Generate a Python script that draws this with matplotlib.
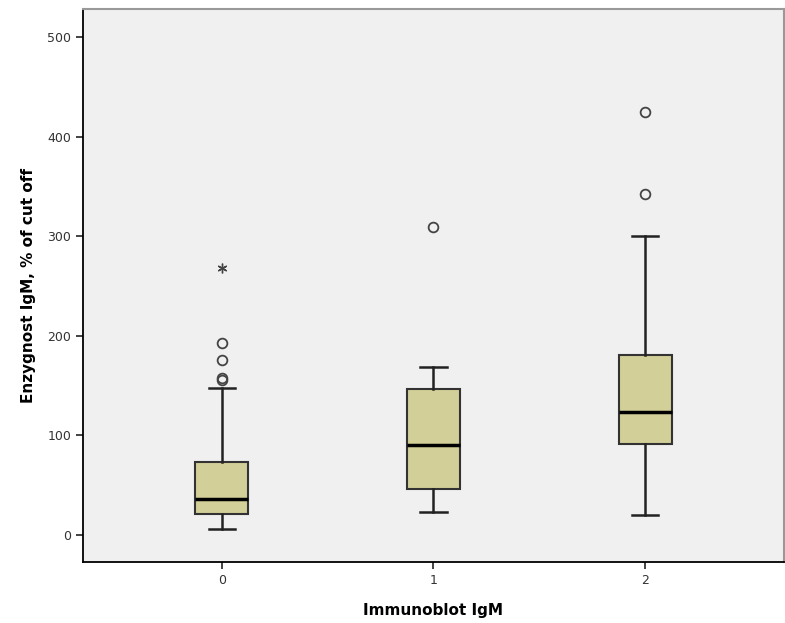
import matplotlib.pyplot as plt

# Boxplot statistics
groups = ['0', '1', '2']
q1 = [21, 46, 91]
med = [36, 90, 123]
q3 = [73, 147, 181]
whislo = [6, 23, 20]
whishi = [148, 169, 300]
outliers = [[193, 176, 158, 156], [309], [425, 342]]
extremes = [[268], [], []]

stats = []
for i in range(len(groups)):
    stats.append({'label': groups[i], 'q1': q1[i], 'med': med[i], 'q3': q3[i],
                  'whislo': whislo[i], 'whishi': whishi[i], 'fliers': outliers[i]})

fig = plt.figure(figsize=(7.85, 6.23), dpi=100)
ax = fig.add_axes([0.1057, 0.0979, 0.893, 0.8877])
ax.set_facecolor('#f0f0f0')

pos = list(range(len(groups)))
ax.bxp(stats, positions=pos, widths=0.25, patch_artist=True,
       boxprops=dict(facecolor='#d3cf98', edgecolor='#333333', linewidth=1.5),
       medianprops=dict(color='black', linewidth=2.5),
       whiskerprops=dict(color='#222222', linewidth=1.8),
       capprops=dict(color='#222222', linewidth=1.8),
       capwidths=0.125,
       flierprops=dict(marker='o', markersize=7, markerfacecolor='none',
                       markeredgecolor='#444444', markeredgewidth=1.3))

# extreme values drawn as stars
for i in range(len(groups)):
    for v in extremes[i]:
        ax.plot(pos[i], v, marker=(6, 2, 0), markersize=7, color='#444444',
                markeredgewidth=1.0, linestyle='none')

ax.set_xlim(-0.656, 2.656)
ax.set_ylim(-27.1, 528.1)
ax.set_yticks([0, 100, 200, 300, 400, 500])
ax.set_xticks(pos)
ax.set_xticklabels(groups)
ax.tick_params(labelsize=9, colors='#222222', labelcolor='#333333', length=5, width=1.2)

for side in ['left', 'bottom']:
    ax.spines[side].set_color('black')
    ax.spines[side].set_linewidth(1.3)
for side in ['top', 'right']:
    ax.spines[side].set_color('#999999')
    ax.spines[side].set_linewidth(1.5)

ax.set_xlabel('Immunoblot IgM', fontsize=11, fontweight='bold', labelpad=12)
ax.set_ylabel('Enzygnost IgM, % of cut off', fontsize=11, fontweight='bold', labelpad=8)

fig.savefig('out.png', dpi=100)
